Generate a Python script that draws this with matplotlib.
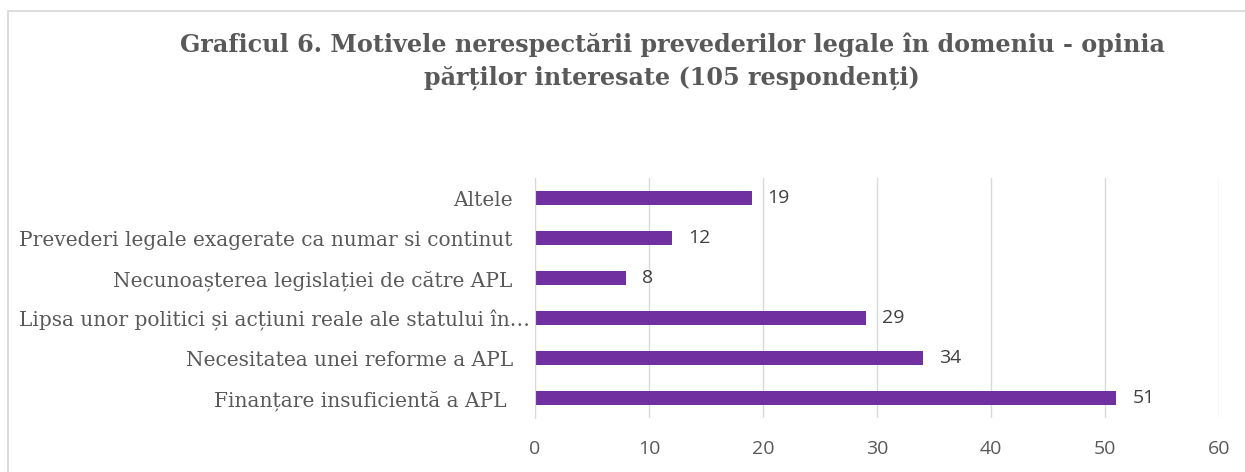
import matplotlib
matplotlib.use("Agg")
import matplotlib.pyplot as plt
from matplotlib.patches import Rectangle
from matplotlib.transforms import ScaledTranslation

categories = [
    "Finanțare insuficientă a APL ",
    "Necesitatea unei reforme a APL",
    "Lipsa unor politici și acțiuni reale ale statului în…",
    "Necunoașterea legislației de către APL",
    "Prevederi legale exagerate ca numar si continut",
    "Altele",
]
values = [51, 34, 29, 8, 12, 19]
xticks = [0, 10, 20, 30, 40, 50, 60]

W, H = 1245, 472
fig = plt.figure(figsize=(W/100, H/100), dpi=100)
fig.patch.set_facecolor("white")
fig.patches.append(Rectangle((8/W, -0.1), 2.0, (H-10.5)/H + 0.1, transform=fig.transFigure,
                             fill=False, edgecolor="#d9d9d9", linewidth=1.3))

ax = fig.add_axes([535/W, (H-418)/H, (1219-535)/W, 240/H])
pos = list(range(len(categories)))
ax.barh(pos, values, height=0.35, color="#7030A0", zorder=3)
ax.set_xlim(0, 60)
ax.set_ylim(-0.5, 5.5)
ax.set_xticks(xticks)
ax.set_xticklabels([str(t) for t in xticks], fontsize=14, color="#595959", family="Open Sans")
ax.set_yticks(pos)
ax.set_yticklabels(categories, fontsize=14.5, color="#595959", family="DejaVu Serif")
ax.tick_params(axis="both", length=0)
ax.tick_params(axis="x", pad=16)
ax.tick_params(axis="y", pad=16)
ax.grid(axis="x", color="#d9d9d9", linewidth=1, zorder=0)
for s in ["top", "right", "bottom"]:
    ax.spines[s].set_visible(False)
ax.spines["left"].set_color("#d9d9d9")
ax.spines["left"].set_zorder(4)

lbl = ax.get_yticklabels()[2]
lbl.set_transform(lbl.get_transform() + ScaledTranslation(17/100, 0, fig.dpi_scale_trans))

for p, v in zip(pos, values):
    ax.annotate(str(v), (v, p), xytext=(16, 0), textcoords="offset pixels",
                va="center", ha="left", fontsize=14, color="#404040", family="Open Sans")

fig.text(672/W, 1 - 45/H, "Graficul 6. Motivele nerespectării prevederilor legale în domeniu - opinia",
         ha="center", va="center", fontsize=17.2, fontweight="bold", color="#595959", family="DejaVu Serif")
fig.text(672/W, 1 - 78/H, "părților interesate (105 respondenți)",
         ha="center", va="center", fontsize=17.2, fontweight="bold", color="#595959", family="DejaVu Serif")

fig.savefig("out.png", dpi=100)
